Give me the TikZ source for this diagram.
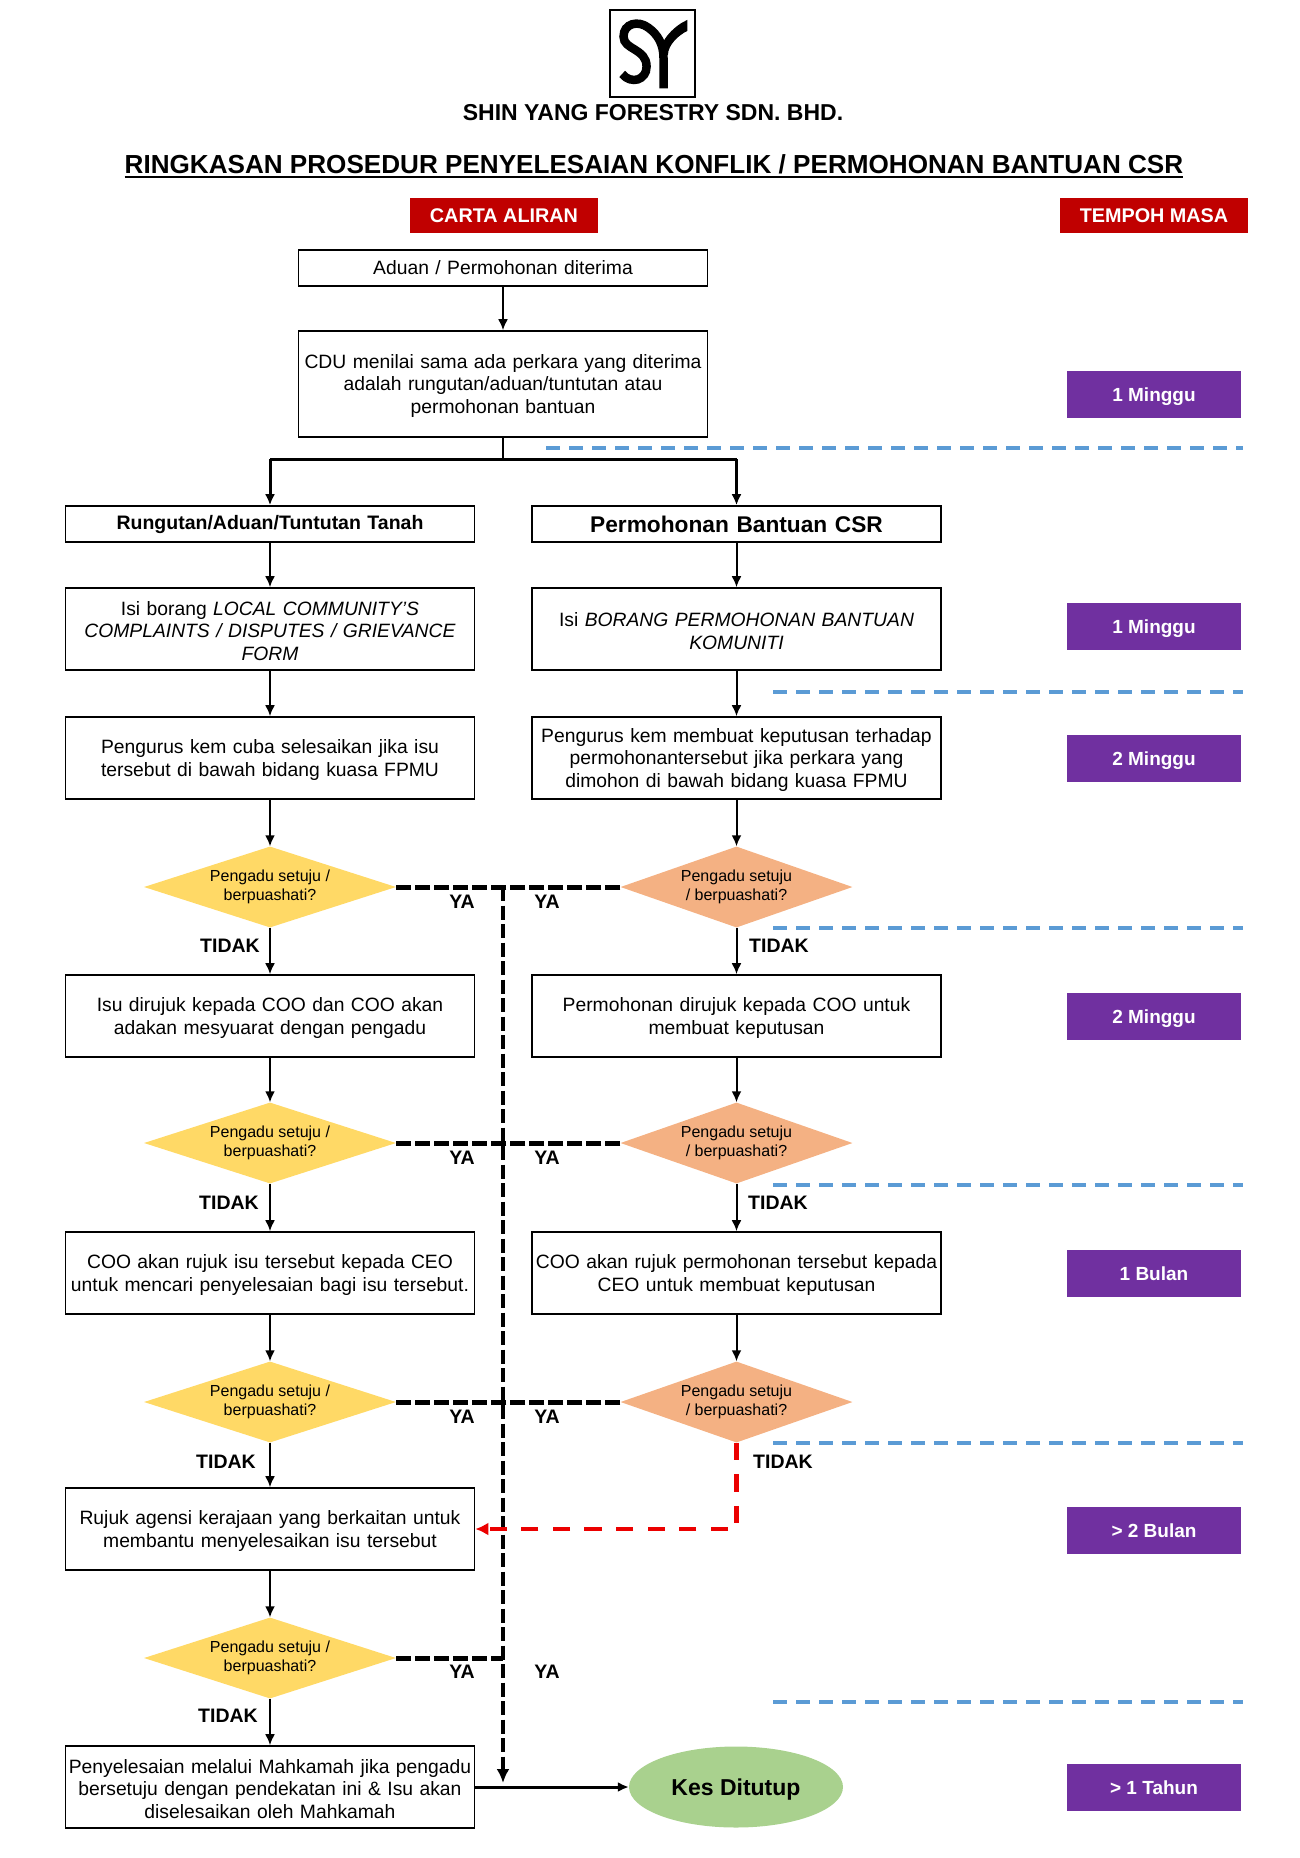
\documentclass[tikz,border=0pt]{standalone}
\usepackage{fontspec}
\setmainfont{Liberation Sans}
\usetikzlibrary{arrows.meta,shapes.geometric}
\definecolor{hdrred}{HTML}{C00000}
\definecolor{tpurple}{HTML}{7030A0}
\definecolor{dyellow}{HTML}{FFD966}
\definecolor{dorange}{HTML}{F4B183}
\definecolor{egreen}{HTML}{A9D18E}
\definecolor{blued}{HTML}{5B9BD5}
\tikzset{
  bx/.style={draw=black,line width=1.6pt,fill=white,inner sep=0pt,align=center,font=\fontsize{19.3}{22.4}\selectfont,text width=#1},
  bx/.default=404pt,
  sh/.style={execute at end node={\par\vspace*{-4pt}}},
  hdr/.style={fill=hdrred,text=white,minimum width=188pt,minimum height=35pt,inner sep=0pt,font=\fontsize{19.8}{22}\bfseries\selectfont},
  dur/.style={fill=tpurple,text=white,minimum width=174pt,minimum height=47pt,inner sep=0pt,text height=19pt,text depth=4pt,font=\fontsize{19}{22}\bfseries\selectfont},
  dmd/.style={diamond,aspect=3.1,inner sep=0pt},
  dtx/.style={font=\fontsize{16}{18.7}\selectfont,align=center,inner sep=0pt},
  lab/.style={font=\fontsize{19.5}{22}\bfseries\selectfont,inner sep=0pt},
  arr/.style={-{Latex[length=11pt,width=10pt]},line width=2pt},
  ln/.style={line width=2pt},
  ya/.style={line width=5pt,dash pattern=on 15pt off 4pt},
  yav/.style={line width=4pt,dash pattern=on 14pt off 4.5pt},
  sep/.style={draw=blued,line width=3.5pt,dash pattern=on 14pt off 9pt},
}
\begin{document}
\begin{tikzpicture}[x=1pt,y=-1pt]
\useasboundingbox (0,0) rectangle (1300,1858);
% logo
\node[draw=black,line width=2pt,minimum width=85pt,minimum height=87pt,inner sep=0pt] (logo) at (652.5,53.5) {};
\begin{scope}[shift={(602.5,5)},x=0.339pt,y=-0.333pt]
\draw[line width=8.5pt,line cap=butt] (58,207) .. controls (85,240) and (130,225) .. (130,185) .. controls (130,130) and (62,135) .. (62,95) .. controls (62,55) and (105,45) .. (135,68) .. controls (165,90) and (180,120) .. (180,160) -- (180,250);
\fill (250,45) .. controls (215,60) and (168,105) .. (168,150) -- (193,150) .. controls (193,120) and (225,90) .. (250,78) -- cycle;
\end{scope}
\node[font=\fontsize{23}{25}\bfseries\selectfont,inner sep=0pt] (comp) at (653,113) {SHIN YANG FORESTRY SDN. BHD.};
\node[font=\fontsize{26.1}{28}\bfseries\selectfont,inner sep=0pt] (title) at (654,164) {RINGKASAN PROSEDUR PENYELESAIAN KONFLIK / PERMOHONAN BANTUAN CSR};
\path (title.west |- 0,177) coordinate (ula) (title.east |- 0,177) coordinate (ulb);
\draw[line width=2.5pt] (ula) -- (ulb);
\node[hdr] (h1) at (504,215.5) {CARTA ALIRAN};
\node[hdr] (h2) at (1154,215.5) {TEMPOH MASA};
% boxes
\node[bx=409pt,minimum height=36pt] (a) at (503,268) {Aduan / Permohonan diterima};
\node[bx=409pt,sh,minimum height=106pt] (b) at (503,384) {CDU menilai sama ada perkara yang diterima\\adalah rungutan/aduan/tuntutan atau\\permohonan bantuan};
\node[bx=409pt,minimum height=36pt,font=\fontsize{19.5}{22}\bfseries\selectfont] (l0) at (270,524) {Rungutan/Aduan/Tuntutan Tanah};
\node[bx=409pt,minimum height=36pt,font=\fontsize{22.7}{25}\bfseries\selectfont] (r0) at (736.5,524) {Permohonan Bantuan CSR};
\node[bx=409pt,sh,minimum height=82pt] (l1) at (270,629) {Isi borang \textit{LOCAL COMMUNITY’S}\\\textit{COMPLAINTS / DISPUTES / GRIEVANCE}\\\textit{FORM}};
\node[bx=409pt,sh,minimum height=82pt] (r1) at (736.5,629) {Isi \textit{BORANG PERMOHONAN BANTUAN}\\\textit{KOMUNITI}};
\node[bx=409pt,sh,minimum height=82pt] (l2) at (270,758) {Pengurus kem cuba selesaikan jika isu\\tersebut di bawah bidang kuasa FPMU};
\node[bx=409pt,sh,minimum height=82pt] (r2) at (736.5,758) {Pengurus kem membuat keputusan terhadap\\permohonantersebut jika perkara yang\\dimohon di bawah bidang kuasa FPMU};
\node[bx=409pt,sh,minimum height=82pt] (l3) at (270,1016) {Isu dirujuk kepada COO dan COO akan\\adakan mesyuarat dengan pengadu};
\node[bx=409pt,sh,minimum height=82pt] (r3) at (736.5,1016) {Permohonan dirujuk kepada COO untuk\\membuat keputusan};
\node[bx=409pt,sh,minimum height=82pt] (l4) at (270,1273) {COO akan rujuk isu tersebut kepada CEO\\untuk mencari penyelesaian bagi isu tersebut.};
\node[bx=409pt,sh,minimum height=82pt] (r4) at (736.5,1273) {COO akan rujuk permohonan tersebut kepada\\CEO untuk membuat keputusan};
\node[bx=409pt,sh,minimum height=82pt] (l5) at (270,1529) {Rujuk agensi kerajaan yang berkaitan untuk\\membantu menyelesaikan isu tersebut};
\node[bx=409pt,sh,minimum height=82pt] (l6) at (270,1787) {Penyelesaian melalui Mahkamah jika pengadu\\bersetuju dengan pendekatan ini \& Isu akan\\diselesaikan oleh Mahkamah};
% diamonds
\foreach \n/\y in {dl1/887,dl2/1143,dl3/1402,dl4/1658}{
  \node[dmd,fill=dyellow,minimum width=252pt,minimum height=81pt] (\n) at (270,\y) {};
  \node[dtx] at (270,\y) {Pengadu setuju /\\berpuashati?};
}
\foreach \n/\y in {dr1/887,dr2/1143,dr3/1402}{
  \node[dmd,fill=dorange,minimum width=232pt,minimum height=81pt] (\n) at (736.5,\y) {};
  \node[dtx] at (736.5,\y) {Pengadu setuju\\/ berpuashati?};
}
\node[ellipse,fill=egreen,minimum width=214pt,minimum height=81pt,inner sep=0pt,text height=22pt,text depth=4.8pt,font=\fontsize{23}{26}\bfseries\selectfont] (end) at (736,1787) {Kes Ditutup};
% solid connectors
\draw[arr] (a) -- (b);
\coordinate (split) at (503,459);
\draw[ln] (b) -- (split);
\draw[arr,line width=3pt] (l0.north |- split) -- (l0);
\draw[arr,line width=3pt] (r0.north |- split) -- (r0);
\draw[line width=3pt] (l0.north |- split) -- (r0.north |- split);
\foreach \p/\q in {l0/l1,l1/l2,l2/dl1,dl1/l3,l3/dl2,dl2/l4,l4/dl3,dl3/l5,l5/dl4,dl4/l6,r0/r1,r1/r2,r2/dr1,dr1/r3,r3/dr2,dr2/r4,r4/dr3}{
  \draw[arr] (\p) -- (\q);
}
\draw[arr,line width=3pt] (l6.east) -- (end.west);
% YA dashes
\coordinate (jt) at (503,887);
\coordinate (jb) at (503,1783);
\foreach \n in {dl1,dl2,dl3,dl4}{ \draw[ya] (\n.east) -- (jt |- \n.east); }
\foreach \n in {dr1,dr2,dr3}{ \draw[ya] (\n.west) -- (jt |- \n.west); }
\draw[yav,-{Latex[length=14pt,width=13pt]}] (jt) -- (jb);
% red
\coordinate (rc) at (736.5,1529);
\draw[red!92!black,line width=4.5pt,dash pattern=on 17.3pt off 14.3pt,-{Latex[length=13pt,width=13pt]}] (dr3.south) -- (rc) -- (l5.east);
% separators
\draw[sep] (546,448) -- (1243,448);
\foreach \y in {692,928,1185,1443,1702}{ \draw[sep] (773,\y) -- (1243,\y); }
% durations
\node[dur] (t1) at (1154,394) {1 Minggu};
\node[dur] (t2) at (1154,626) {1 Minggu};
\node[dur] (t3) at (1154,758) {2 Minggu};
\node[dur] (t4) at (1154,1016) {2 Minggu};
\node[dur] (t5) at (1154,1273) {1 Bulan};
\node[dur] (t6) at (1154,1530) {> 2 Bulan};
\node[dur] (t7) at (1154,1787) {> 1 Tahun};
% labels
\foreach \x/\y/\t in {462/902/YA,547/902/YA,230/946/TIDAK,779/946/TIDAK,462/1158/YA,547/1158/YA,229/1203/TIDAK,778/1203/TIDAK,462/1417/YA,547/1417/YA,226/1462/TIDAK,783/1462/TIDAK,462/1672/YA,547/1672/YA,228/1716/TIDAK}{
  \node[lab] at (\x,\y) {\t};
}
\end{tikzpicture}
\end{document}
